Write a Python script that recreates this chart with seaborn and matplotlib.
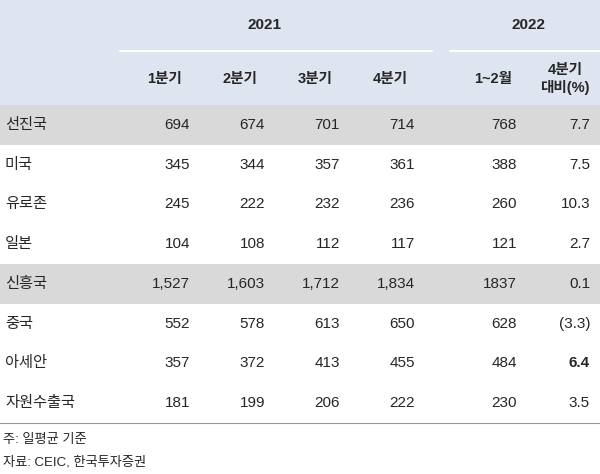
import matplotlib
matplotlib.use("Agg")
import matplotlib.pyplot as plt
import seaborn as sns

sns.set_style("white")
plt.rcParams['font.family'] = ['Liberation Sans', 'Noto Sans CJK KR', 'DejaVu Sans']

years = ["2021", "2022"]
cols = ["1분기", "2분기", "3분기", "4분기", "1~2월", "4분기\n대비(%)"]
rows = ["선진국", "미국", "유로존", "일본", "신흥국", "중국", "아세안", "자원수출국"]
values = [
    ["694", "674", "701", "714", "768", "7.7"],
    ["345", "344", "357", "361", "388", "7.5"],
    ["245", "222", "232", "236", "260", "10.3"],
    ["104", "108", "112", "117", "121", "2.7"],
    ["1,527", "1,603", "1,712", "1,834", "1837", "0.1"],
    ["552", "578", "613", "650", "628", "(3.3)"],
    ["357", "372", "413", "455", "484", "6.4"],
    ["181", "199", "206", "222", "230", "3.5"],
]
shaded = {"선진국", "신흥국"}
bold_cells = {(6, 5)}
notes = ["주: 일평균 기준", "자료: CEIC, 한국투자증권"]

fig = plt.figure(figsize=(6, 4.74), dpi=100)
ax = fig.add_axes([0, 0, 1, 1])
ax.set_xlim(0, 600); ax.set_ylim(474, 0); ax.axis("off")

hdr_bg = "#dfe5f0"
ax.add_patch(plt.Rectangle((0, 0), 600, 105, color=hdr_bg, lw=0))
col_right = [190, 265, 340, 415, 517, 590]
col_center = [165, 240, 315, 390, 493, 565]
ax.text(265, 25, years[0], ha="center", va="center", fontsize=11, weight="bold")
ax.text(528, 25, years[1], ha="center", va="center", fontsize=11, weight="bold")
ax.plot([120, 432], [51, 51], color="white", lw=1.5)
ax.plot([450, 600], [51, 51], color="white", lw=1.5)
for c, x in zip(cols, col_center):
    ax.text(x, 79, c, ha="center", va="center", fontsize=10.5, weight="bold", linespacing=1.2)

rh = 39.75
for i, (r, vals) in enumerate(zip(rows, values)):
    y0 = 105 + i * rh
    yc = y0 + rh / 2
    if r in shaded:
        ax.add_patch(plt.Rectangle((0, y0), 600, rh, color="#d9d9d9", lw=0))
    ax.text(5, yc, r, ha="left", va="center", fontsize=11)
    for j, (v, x) in enumerate(zip(vals, col_right)):
        ax.text(x, yc, v, ha="right", va="center", fontsize=11,
                weight="bold" if (i, j) in bold_cells else "normal")
ax.plot([0, 600], [105 + 8 * rh, 105 + 8 * rh], color="#999999", lw=0.8)
ax.text(3, 440, notes[0], ha="left", va="center", fontsize=9.5)
ax.text(3, 462, notes[1], ha="left", va="center", fontsize=9.5)
fig.savefig("out.png", dpi=100)
